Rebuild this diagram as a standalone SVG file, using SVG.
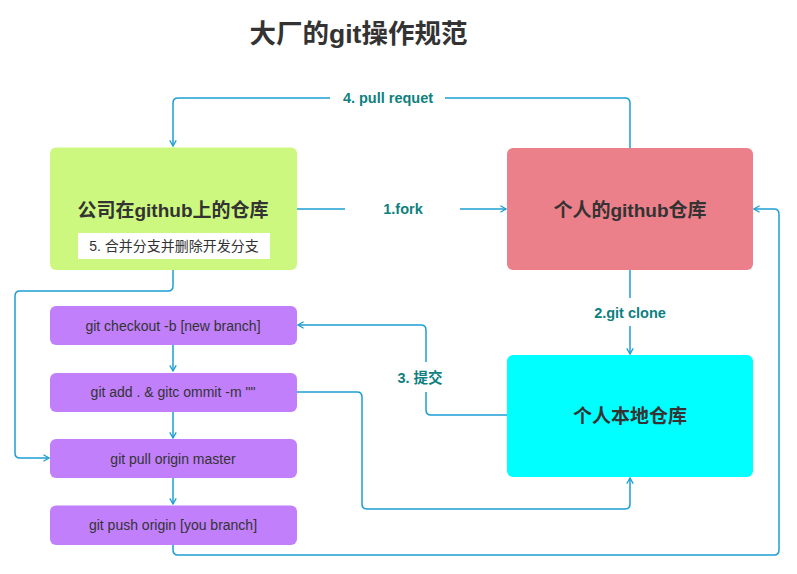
<svg xmlns="http://www.w3.org/2000/svg" width="797" height="574" viewBox="0 0 797 574">
<style>
.t{font-family:"Liberation Sans","Noto Sans CJK SC",sans-serif;fill:#333;text-anchor:middle;dominant-baseline:central}
.big{font-size:19px;font-weight:bold}
.cmd{font-size:14px}
.lbl{font-family:"Liberation Sans","Noto Sans CJK SC",sans-serif;font-size:14.5px;font-weight:bold;fill:#0E8080;text-anchor:middle;dominant-baseline:central}
.c{fill:none;stroke:#1D9ED3;stroke-width:1.5;stroke-linejoin:round}
.p{fill:#C17FFC}
</style>
<defs>
<marker id="a" viewBox="0 0 10 10" refX="9" refY="5" markerWidth="8" markerHeight="8" markerUnits="userSpaceOnUse" orient="auto">
<path d="M2,1 L9,5 L2,9" fill="none" stroke="#1D9ED3" stroke-width="1.6"/>
</marker>
</defs>
<rect width="797" height="574" fill="#fff"/>
<text x="358.5" y="34" class="t" style="font-size:26.5px;font-weight:bold">大厂的git操作规范</text>
<g id="connectors">
<path class="c" d="M630,148 V103 Q630,98 625,98 H445"/>
<path class="c" d="M330,98 H178 Q173,98 173,103 V146" marker-end="url(#a)"/>
<text class="lbl" x="388" y="98">4. pull requet</text>
<path class="c" d="M297,209 H345"/>
<path class="c" d="M460,209 H506" marker-end="url(#a)"/>
<text class="lbl" x="403" y="209">1.fork</text>
<path class="c" d="M630,270 V298"/>
<path class="c" d="M630,326 V354" marker-end="url(#a)"/>
<text class="lbl" x="630" y="313">2.git clone</text>
<path class="c" d="M507,415 H431 Q426,415 426,410 V392"/>
<path class="c" d="M426,362 V330 Q426,325 421,325 H298" marker-end="url(#a)"/>
<text class="lbl" x="420" y="378">3. 提交</text>
<path class="c" d="M173,270 V286 Q173,291 168,291 H20 Q15,291 15,296 V453 Q15,458 20,458 H49" marker-end="url(#a)"/>
<path class="c" d="M173,345 V371" marker-end="url(#a)"/>
<path class="c" d="M173,412 V438" marker-end="url(#a)"/>
<path class="c" d="M173,478 V504" marker-end="url(#a)"/>
<path class="c" d="M297,392 H357 Q362,392 362,397 V504 Q362,509 367,509 H625 Q630,509 630,504 V478" marker-end="url(#a)"/>
<path class="c" d="M173,545 V550 Q173,555 178,555 H774 Q779,555 779,550 V214 Q779,209 774,209 H754" marker-end="url(#a)"/>
</g>
<g id="company">
<rect x="50" y="147.5" width="247" height="122.5" rx="6" fill="#CDF87F"/>
<text class="t big" x="173" y="210">公司在github上的仓库</text>
<rect x="78" y="233" width="192" height="26" fill="#fff"/>
<text class="t cmd" x="174" y="246">5. 合并分支并删除开发分支</text>
</g>
<g id="personal">
<rect x="507" y="148" width="246" height="122" rx="6" fill="#EC808A"/>
<text class="t big" x="630" y="210">个人的github仓库</text>
</g>
<g id="local">
<rect x="507" y="355" width="246" height="122" rx="6" fill="#00FFFF"/>
<text class="t big" x="630" y="416">个人本地仓库</text>
</g>
<g id="checkout">
<rect class="p" x="50" y="306" width="247" height="39" rx="6"/>
<text class="t cmd" x="173" y="326">git checkout -b [new branch]</text>
</g>
<g id="add">
<rect class="p" x="50" y="373" width="247" height="39" rx="6"/>
<text class="t cmd" x="173" y="392">git add . &amp; gitc ommit -m ""</text>
</g>
<g id="pull">
<rect class="p" x="50" y="439" width="247" height="39" rx="6"/>
<text class="t cmd" x="173" y="459">git pull origin master</text>
</g>
<g id="push">
<rect class="p" x="50" y="505.5" width="247" height="39.5" rx="6"/>
<text class="t cmd" x="173" y="525">git push origin [you branch]</text>
</g>
</svg>
